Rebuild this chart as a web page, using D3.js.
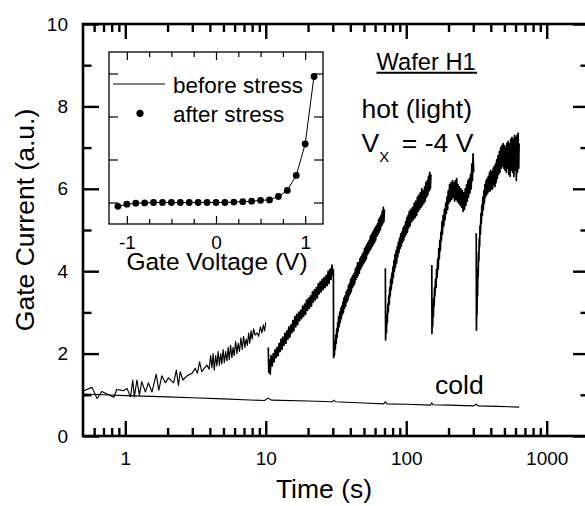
<!DOCTYPE html>
<html>
<head>
<title>Gate Current vs Time</title>
<script src="https://d3js.org/d3.v7.min.js"></script>
<style>
body { margin: 0; background: #fff; }
text { font-family: "Liberation Sans", Arial, sans-serif; fill: #000; }
</style>
</head>
<body>
<div id="chart"></div>
<script>
// tick values
var xMajorTicks = [1, 10, 100, 1000];
var xMinorTicks = [0.6, 0.7, 0.8, 0.9, 2, 3, 4, 5, 6, 7, 8, 9, 20, 30, 40, 50, 60, 70, 80, 90,
                   200, 300, 400, 500, 600, 700, 800, 900, 2000];
var yMajorTicks = [0, 2, 4, 6, 8, 10];
var yMinorTicks = [1, 3, 5, 7, 9];
var insetXMajor = [-1, 0, 1];
var insetXMinor = [-0.75, -0.5, -0.25, 0.25, 0.5, 0.75];
var insetYTicks = [1, 2, 3, 4];

// hot (light) gate current, one array per stress interval: [time (s), current]
var hot1 = [[0.505, 1.10], [0.58, 1.18], [0.63, 0.91], [0.68, 1.08], [0.74, 1.02], [0.83, 0.94], [0.87, 1.13],
  [0.97, 1.10], [1.03, 1.15], [1.09, 0.95], [1.13, 1.36], [1.16, 0.95], [1.21, 1.36], [1.26, 0.99], [1.31, 1.32],
  [1.39, 1.07], [1.46, 1.29], [1.55, 1.07], [1.66, 1.50], [1.73, 1.11], [1.82, 1.46], [1.93, 1.29], [2.03, 1.41],
  [2.21, 1.29], [2.31, 1.60], [2.39, 1.23], [2.46, 1.56], [2.57, 1.36], [2.75, 1.46], [2.98, 1.52], [3.15, 1.64],
  [3.26, 1.52], [3.38, 1.80], [3.5, 1.56], [3.81, 1.72], [3.95, 1.62], [4.05, 1.95], [4.14, 1.65], [4.22, 2.0],
  [4.3, 1.6], [4.4, 1.95], [4.49, 1.7], [4.58, 2.05], [4.68, 1.72], [4.78, 2.0], [4.87, 1.75], [4.97, 2.1],
  [5.07, 1.78], [5.18, 2.05], [5.29, 1.82], [5.4, 2.15], [5.5, 1.85], [5.62, 2.2], [5.74, 1.9], [5.85, 2.15],
  [5.96, 1.95], [6.1, 2.3], [6.23, 2.0], [6.36, 2.25], [6.5, 2.05], [6.65, 2.38], [6.8, 2.1], [6.95, 2.42],
  [7.1, 2.15], [7.25, 2.35], [7.4, 2.2], [7.55, 2.5], [7.7, 2.25], [7.85, 2.55], [8.0, 2.35], [8.19, 2.6],
  [8.4, 2.45], [8.65, 2.5], [8.9, 2.42], [9.15, 2.65], [9.4, 2.5], [9.6, 2.7], [9.8, 2.55], [10.0, 2.75]];
var hot2 = [[10.42, 2.15], [10.5, 1.55], [10.6, 1.85], [10.76, 1.5], [10.9, 1.95], [11.11, 1.7], [11.3, 2.0],
  [11.47, 1.8], [11.65, 2.1], [11.85, 1.9], [12.05, 2.15], [12.24, 1.95], [12.45, 2.25], [12.64, 2.05],
  [12.85, 2.35], [13.05, 2.1], [13.25, 2.4], [13.48, 2.2], [13.7, 2.5], [13.92, 2.25], [14.15, 2.55],
  [14.37, 2.35], [14.6, 2.65], [14.84, 2.4], [15.1, 2.7], [15.33, 2.5], [15.6, 2.8], [15.83, 2.55], [16.1, 2.9],
  [16.35, 2.65], [16.6, 2.95], [16.88, 2.7], [17.15, 3.0], [17.43, 2.8], [17.7, 3.05], [18.0, 2.85], [18.3, 3.15],
  [18.59, 2.9], [18.9, 3.2], [19.2, 2.95], [19.5, 3.3], [19.82, 3.05], [20.15, 3.35], [20.47, 3.1], [20.8, 3.4],
  [21.14, 3.15], [21.5, 3.5], [21.83, 3.25], [22.2, 3.55], [22.54, 3.3], [22.9, 3.6], [23.28, 3.35], [23.65, 3.7],
  [24.04, 3.45], [24.4, 3.75], [24.82, 3.5], [25.2, 3.8], [25.63, 3.55], [26.0, 3.85], [26.47, 3.6], [26.9, 3.9],
  [27.33, 3.65], [27.8, 4.0], [28.23, 3.7], [28.7, 4.05], [29.15, 3.8], [29.6, 4.15], [30.1, 3.9]];
var hot3 = [[30.3, 4.05], [30.4, 1.9], [30.6, 2.1], [30.8, 1.95], [31.0, 2.3], [31.25, 2.1], [31.5, 2.45],
  [31.75, 2.25], [32.0, 2.6], [32.25, 2.4], [32.5, 2.75], [32.75, 2.55], [33.0, 2.9], [33.3, 2.65], [33.6, 3.0],
  [33.9, 2.75], [34.2, 3.1], [34.5, 2.85], [34.8, 3.15], [35.1, 2.95], [35.4, 3.25], [35.7, 3.0], [36.0, 3.35],
  [36.35, 3.1], [36.7, 3.4], [37.05, 3.15], [37.4, 3.5], [37.75, 3.25], [38.1, 3.55], [38.45, 3.3], [38.8, 3.65],
  [39.15, 3.4], [39.5, 3.7], [39.85, 3.45], [40.2, 3.8], [40.6, 3.5], [41.0, 3.85], [41.4, 3.6], [41.8, 3.9],
  [42.2, 3.65], [42.6, 3.95], [43.0, 3.7], [43.4, 4.05], [43.8, 3.8], [44.2, 4.1], [44.6, 3.85], [45.0, 4.2],
  [45.45, 3.9], [45.9, 4.2], [46.35, 3.95], [46.8, 4.3], [47.25, 4.05], [47.7, 4.35], [48.15, 4.1], [48.6, 4.4],
  [49.05, 4.15], [49.5, 4.45], [50.0, 4.2], [50.5, 4.55], [51.0, 4.25], [51.5, 4.6], [52.0, 4.3], [52.5, 4.65],
  [53.0, 4.4], [53.5, 4.7], [54.0, 4.45], [54.5, 4.75], [55.0, 4.5], [55.6, 4.85], [56.15, 4.55], [56.7, 4.9],
  [57.25, 4.6], [57.8, 4.95], [58.35, 4.65], [58.9, 5.0], [59.45, 4.7], [60.0, 5.05], [60.6, 4.75], [61.2, 5.1],
  [61.8, 4.85], [62.4, 5.15], [63.0, 4.9], [63.6, 5.25], [64.2, 4.95], [64.8, 5.3], [65.45, 5.0], [66.1, 5.35],
  [66.75, 5.1], [67.4, 5.45], [68.05, 5.15], [68.7, 5.55], [69.3, 5.2], [70.0, 5.5]];
var hot4 = [[71.0, 4.07], [71.3, 2.33], [71.8, 2.7], [72.3, 2.5], [72.8, 2.95], [73.3, 2.75], [73.9, 3.2],
  [74.5, 3.0], [75.1, 3.4], [75.7, 3.2], [76.3, 3.6], [76.9, 3.4], [77.5, 3.8], [78.2, 3.55], [78.9, 3.95],
  [79.6, 3.7], [80.3, 4.1], [81.0, 3.85], [81.7, 4.25], [82.4, 4.0], [83.1, 4.4], [83.9, 4.1], [84.7, 4.5],
  [85.5, 4.2], [86.3, 4.6], [87.1, 4.35], [87.9, 4.7], [88.7, 4.45], [89.5, 4.8], [90.4, 4.55], [91.3, 4.9],
  [92.2, 4.6], [93.1, 4.95], [94.0, 4.7], [95.0, 5.05], [96.0, 4.75], [97.0, 5.1], [98.0, 4.85], [99.0, 5.2],
  [100, 4.9], [101, 5.3], [102, 4.95], [103, 5.35], [104, 5.05], [105, 5.45], [106.5, 5.1], [108, 5.5],
  [109.5, 5.2], [111, 5.55], [112.5, 5.25], [114, 5.65], [115.5, 5.3], [117, 5.7], [118.5, 5.35], [120, 5.8],
  [121.5, 5.45], [123, 5.85], [124.5, 5.5], [126, 5.9], [127.5, 5.55], [129, 6.0], [130.5, 5.6], [132, 5.95],
  [133.5, 5.65], [135, 6.05], [136.5, 5.7], [138, 6.15], [139.5, 5.8], [141, 6.2], [142.5, 5.85], [144, 6.3],
  [145.5, 5.95], [147, 6.4], [148.5, 6.0], [150, 6.35]];
var hot5 = [[152, 4.15], [152.5, 2.49], [153.3, 2.85], [154.1, 2.65], [155, 3.1], [156, 2.9], [157, 3.35],
  [158, 3.15], [159, 3.6], [160, 3.4], [161.5, 3.8], [163, 3.6], [164.5, 4.05], [166, 3.85], [167.5, 4.3],
  [169, 4.05], [170.5, 4.55], [172, 4.3], [173.5, 4.75], [175, 4.5], [176.5, 4.95], [178, 4.75], [179.5, 5.2],
  [181, 4.9], [183, 5.35], [185, 5.1], [187, 5.5], [189, 5.25], [191, 5.65], [193, 5.4], [195, 5.8], [197, 5.5],
  [199, 5.95], [201, 5.65], [203.5, 6.1], [206, 5.7], [208.5, 6.15], [211, 5.75], [213.5, 6.2], [216, 5.8],
  [218.5, 6.15], [221, 5.7], [223.5, 6.2], [226, 5.75], [228.5, 6.25], [231, 5.7], [233.5, 6.1], [236, 5.65],
  [239, 6.05], [242, 5.6], [245, 6.0], [248, 5.55], [251, 5.95], [254, 5.45], [257, 5.9], [260, 5.5], [263, 6.0],
  [266, 5.6], [269, 6.1], [272, 5.7], [275, 6.2], [278, 5.8], [281, 6.25], [284, 5.9], [287, 6.35], [290, 6.0],
  [293, 6.6], [296, 6.2], [299, 6.85], [302, 6.4]];
var hot6 = [[315, 4.92], [316, 2.57], [317.5, 3.1], [319, 2.95], [320.5, 3.6], [322, 3.4], [323.5, 4.05],
  [325, 3.85], [327, 4.45], [329, 4.25], [331, 4.8], [333, 4.6], [335, 5.1], [337.5, 4.9], [340, 5.4],
  [342.5, 5.15], [345, 5.6], [348, 5.35], [351, 5.8], [354, 5.5], [357, 5.95], [360, 5.65], [363, 6.1],
  [366.5, 5.8], [370, 6.2], [373.5, 5.85], [377, 6.25], [380.5, 5.9], [384, 6.3], [388, 5.95], [392, 6.4],
  [396, 5.95], [400, 6.45], [404, 6.0], [408, 6.4], [412, 6.0], [416, 6.5], [420, 6.1], [424, 6.55], [428, 6.05],
  [432, 6.6], [436, 6.15], [440, 6.7], [445, 6.25], [450, 6.8], [455, 6.35], [460, 6.9], [465, 6.4], [470, 7.0],
  [475, 6.5], [480, 7.05], [485, 6.55], [490, 7.1], [495, 6.5], [500, 7.05], [505, 6.45], [510, 7.0], [515, 6.4],
  [520, 7.1], [525, 6.5], [530, 7.15], [536, 6.35], [542, 7.1], [548, 6.3], [554, 7.2], [560, 6.45], [566, 7.25],
  [572, 6.4], [578, 7.2], [584, 6.3], [590, 7.3], [596, 6.45], [602, 7.25], [608, 6.2], [614, 7.3], [620, 6.4],
  [626, 7.35], [632, 6.5], [636, 7.1]];
var hotSegments = [hot1, hot2, hot3, hot4, hot5, hot6];

// cold gate current: [time (s), current]
var cold = [[0.5, 1.02], [0.7, 1.0], [1, 0.98], [2, 0.95], [3, 0.93], [5, 0.9], [7, 0.88], [9.8, 0.86],
  [10.4, 0.92], [11, 0.87], [20, 0.85], [29.8, 0.83], [30.5, 0.87], [31.5, 0.83], [50, 0.8], [69, 0.78],
  [71, 0.83], [73, 0.78], [100, 0.77], [149, 0.75], [152, 0.8], [155, 0.76], [200, 0.75], [300, 0.73],
  [315, 0.77], [325, 0.73], [450, 0.72], [637, 0.7]];

// inset: gate voltage sweep
var gateVoltage = [-1.1, -1.0, -0.9, -0.8, -0.7, -0.6, -0.5, -0.4, -0.3, -0.2, -0.1, 0, 0.1, 0.2, 0.3, 0.4,
  0.5, 0.6, 0.7, 0.8, 0.9, 1.0, 1.1];
var beforeStress = [0.91, 0.96, 0.985, 0.99, 1.0, 1.0, 1.0, 1.0, 1.0, 1.0, 1.0, 1.0, 1.0, 1.01, 1.02, 1.03,
  1.05, 1.06, 1.14, 1.28, 1.63, 2.36, 3.95];
var afterStress = [0.91, 0.96, 0.985, 0.99, 1.0, 1.0, 1.0, 1.0, 1.0, 1.0, 1.0, 1.0, 1.0, 1.01, 1.02, 1.03,
  1.05, 1.06, 1.14, 1.28, 1.63, 2.36, 3.93];

var width = 585, height = 506;
var svg = d3.select("#chart").append("svg")
  .attr("width", width)
  .attr("height", height);

var plotLeft = 83, plotRight = 589, plotTop = 24, plotBottom = 436;
var x = d3.scaleLog().domain([0.5, 2000]).range([plotLeft, plotRight]);
var y = d3.scaleLinear().domain([0, 10]).range([plotBottom, plotTop]);

function styleAxis(g, size) {
  g.select(".domain").remove();
  g.selectAll(".tick line").attr("stroke", "#000").attr("stroke-width", 2.4);
  g.selectAll(".tick text").style("font-size", size + "px").style("font-family", "Liberation Sans, Arial, sans-serif").attr("fill", "#000");
}

// main axes (ticks point inward on all four sides)
svg.append("g").attr("transform", "translate(0," + plotBottom + ")")
  .call(d3.axisBottom(x).tickValues(xMajorTicks).tickSize(-15).tickPadding(15.5).tickFormat(d3.format("d")))
  .call(styleAxis, 19);
svg.append("g").attr("transform", "translate(0," + plotBottom + ")")
  .call(d3.axisBottom(x).tickValues(xMinorTicks).tickSize(-8).tickFormat(""))
  .call(styleAxis, 19);
svg.append("g").attr("transform", "translate(0," + plotTop + ")")
  .call(d3.axisTop(x).tickValues(xMajorTicks).tickSize(-15).tickFormat(""))
  .call(styleAxis, 19);
svg.append("g").attr("transform", "translate(0," + plotTop + ")")
  .call(d3.axisTop(x).tickValues(xMinorTicks).tickSize(-8).tickFormat(""))
  .call(styleAxis, 19);
svg.append("g").attr("transform", "translate(" + plotLeft + ",0)")
  .call(d3.axisLeft(y).tickValues(yMajorTicks).tickSize(-16).tickPadding(15).tickFormat(d3.format("d")))
  .call(styleAxis, 19);
svg.append("g").attr("transform", "translate(" + plotLeft + ",0)")
  .call(d3.axisLeft(y).tickValues(yMinorTicks).tickSize(-8.5).tickFormat(""))
  .call(styleAxis, 19);
svg.append("g").attr("transform", "translate(" + plotRight + ",0)")
  .call(d3.axisRight(y).tickValues(yMajorTicks).tickSize(-16).tickFormat(""))
  .call(styleAxis, 19);
svg.append("g").attr("transform", "translate(" + plotRight + ",0)")
  .call(d3.axisRight(y).tickValues(yMinorTicks).tickSize(-8.5).tickFormat(""))
  .call(styleAxis, 19);

svg.append("rect")
  .attr("x", plotLeft).attr("y", plotTop)
  .attr("width", plotRight - plotLeft).attr("height", plotBottom - plotTop)
  .attr("fill", "none").attr("stroke", "#000").attr("stroke-width", 2.6);

// data lines
var line = d3.line()
  .x(function(d) { return x(d[0]); })
  .y(function(d) { return y(d[1]); });

svg.append("path")
  .attr("d", line(cold))
  .attr("fill", "none").attr("stroke", "#000").attr("stroke-width", 1.1);

// first interval is drawn thin, the later (denser) ones heavier
svg.selectAll(".hot")
  .data(hotSegments)
  .enter()
  .append("path")
  .attr("class", "hot")
  .attr("d", line)
  .attr("fill", "none").attr("stroke", "#000")
  .attr("stroke-width", function(d, i) { return i === 0 ? 1.15 : 1.7; })
  .attr("stroke-linejoin", "round");

// axis titles
svg.append("text")
  .attr("x", 324).attr("y", 498)
  .attr("text-anchor", "middle")
  .style("font-size", "26.5px")
  .text("Time (s)");
svg.append("text")
  .attr("transform", "translate(33.5,220) rotate(-90)")
  .attr("text-anchor", "middle")
  .style("font-size", "26.5px")
  .text("Gate Current (a.u.)");

// annotations
svg.append("text")
  .attr("x", 376.5).attr("y", 70)
  .style("font-size", "23.7px")
  .text("Wafer H1");
svg.append("line")
  .attr("x1", 376.5).attr("x2", 477).attr("y1", 72.8).attr("y2", 72.8)
  .attr("stroke", "#000").attr("stroke-width", 2);
svg.append("text")
  .attr("x", 361.5).attr("y", 118.3)
  .style("font-size", "26.5px")
  .text("hot (light)");
var vx = svg.append("text")
  .attr("x", 361.5).attr("y", 151.7)
  .style("font-size", "26.5px");
vx.append("tspan").text("V");
vx.append("tspan").attr("dy", 10).style("font-size", "15px").text("X");
vx.append("tspan").attr("x", 394.5).attr("dy", -10).text(" = -4 V");
svg.append("text")
  .attr("x", 435).attr("y", 394)
  .style("font-size", "26.5px")
  .text("cold");

// inset
var iLeft = 109, iRight = 323, iTop = 52, iBottom = 224;
var ix = d3.scaleLinear().domain([-1.2, 1.2]).range([iLeft, iRight]);
var iy = d3.scaleLinear().domain([0.5, 4.5]).range([iBottom, iTop]);

svg.append("rect")
  .attr("x", iLeft).attr("y", iTop)
  .attr("width", iRight - iLeft).attr("height", iBottom - iTop)
  .attr("fill", "#fff");

function styleInset(g) {
  g.select(".domain").remove();
  g.selectAll(".tick line").attr("stroke", "#000").attr("stroke-width", 1.2);
  g.selectAll(".tick text").style("font-size", "19px").style("font-family", "Liberation Sans, Arial, sans-serif").attr("fill", "#000");
}

svg.append("g").attr("transform", "translate(0," + iBottom + ")")
  .call(d3.axisBottom(ix).tickValues(insetXMajor).tickSize(-8).tickPadding(11.5).tickFormat(function(d) { return String(d); }))
  .call(styleInset);
svg.append("g").attr("transform", "translate(0," + iBottom + ")")
  .call(d3.axisBottom(ix).tickValues(insetXMinor).tickSize(-5).tickFormat(""))
  .call(styleInset);
svg.append("g").attr("transform", "translate(0," + iTop + ")")
  .call(d3.axisTop(ix).tickValues(insetXMajor).tickSize(-8).tickFormat(""))
  .call(styleInset);
svg.append("g").attr("transform", "translate(0," + iTop + ")")
  .call(d3.axisTop(ix).tickValues(insetXMinor).tickSize(-5).tickFormat(""))
  .call(styleInset);
svg.append("g").attr("transform", "translate(" + iLeft + ",0)")
  .call(d3.axisLeft(iy).tickValues(insetYTicks).tickSize(-9).tickFormat(""))
  .call(styleInset);
svg.append("g").attr("transform", "translate(" + iRight + ",0)")
  .call(d3.axisRight(iy).tickValues(insetYTicks).tickSize(-9).tickFormat(""))
  .call(styleInset);

svg.append("rect")
  .attr("x", iLeft).attr("y", iTop)
  .attr("width", iRight - iLeft).attr("height", iBottom - iTop)
  .attr("fill", "none").attr("stroke", "#000").attr("stroke-width", 1.3);

var insetLine = d3.line()
  .x(function(d, i) { return ix(gateVoltage[i]); })
  .y(function(d) { return iy(d); });

svg.append("path")
  .attr("d", insetLine(beforeStress))
  .attr("fill", "none").attr("stroke", "#000").attr("stroke-width", 1);

svg.selectAll(".dot")
  .data(afterStress)
  .enter()
  .append("circle")
  .attr("class", "dot")
  .attr("cx", function(d, i) { return ix(gateVoltage[i]); })
  .attr("cy", function(d) { return iy(d); })
  .attr("r", 3.4)
  .attr("fill", "#000");

svg.append("text")
  .attr("x", 217).attr("y", 269.5)
  .attr("text-anchor", "middle")
  .style("font-size", "24.5px")
  .text("Gate Voltage (V)");

// inset legend
svg.append("line")
  .attr("x1", 113).attr("x2", 165).attr("y1", 84).attr("y2", 84)
  .attr("stroke", "#000").attr("stroke-width", 1);
svg.append("text")
  .attr("x", 173).attr("y", 93.3)
  .style("font-size", "22.5px")
  .text("before stress");
svg.append("circle")
  .attr("cx", 140).attr("cy", 113.3).attr("r", 3.6)
  .attr("fill", "#000");
svg.append("text")
  .attr("x", 173).attr("y", 121.7)
  .style("font-size", "22.5px")
  .text("after stress");
</script>
</body>
</html>
